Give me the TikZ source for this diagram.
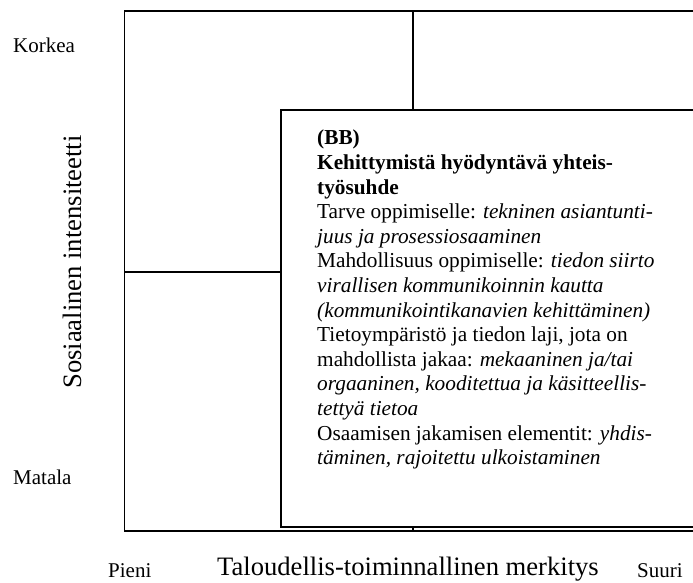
\documentclass[tikz,border=0pt]{standalone}
\usepackage{fontspec}
\setmainfont{Liberation Serif}
\begin{document}
\begin{tikzpicture}[x=1pt,y=-1pt,
  frame/.style={line width=1.7pt, line cap=rect},
  lbl/.style={inner sep=0pt, font=\fontsize{21}{24}\selectfont},
  axis/.style={inner sep=0pt, font=\fontsize{26.6}{30}\selectfont},
  body/.style={inner sep=0pt, align=left, font=\fontsize{21.3}{24.6}\selectfont}]
\useasboundingbox (0,0) rectangle (693,582);
% outer frame and dividers
\draw[frame] (693,11) -- (124.5,11) -- (124.5,531) -- (693,531);
\draw[frame] (413,11) -- (413,531);
\draw[frame] (124.5,272) -- (693,272);
% inner box
\draw[frame, fill=white] (281,110) rectangle (710,527);
% box text
\node[body, anchor=north west] (txt) at (317,130) {%
\textbf{(BB)}\\
\textbf{Kehittymistä hyödyntävä yhteis-}\\
\textbf{työsuhde}\\
Tarve oppimiselle: \textit{tekninen asiantunti-}\\
\textit{juus ja prosessiosaaminen}\\
Mahdollisuus oppimiselle: \textit{tiedon siirto}\\
\textit{virallisen kommunikoinnin kautta}\\
\textit{(kommunikointikanavien kehittäminen)}\\
Tietoympäristö ja tiedon laji, jota on\\
mahdollista jakaa: \textit{mekaaninen ja/tai}\\
\textit{orgaaninen, kooditettua ja käsitteellis-}\\
\textit{tettyä tietoa}\\
Osaamisen jakamisen elementit: \textit{yhdis-}\\
\textit{täminen, rajoitettu ulkoistaminen}};
% axis labels
\node[lbl, anchor=base west] (hi) at (13,52) {Korkea};
\node[lbl, anchor=base west] (lo) at (13,484) {Matala};
\node[axis, rotate=90, anchor=base] (yax) at (81,262) {Sosiaalinen intensiteetti};
\node[lbl, anchor=base west] (small) at (108,577) {Pieni};
\node[axis, anchor=base west] (xax) at (217,575) {Taloudellis-toiminnallinen merkitys};
\node[lbl, anchor=base west] (big) at (637,577) {Suuri};
\end{tikzpicture}
\end{document}
